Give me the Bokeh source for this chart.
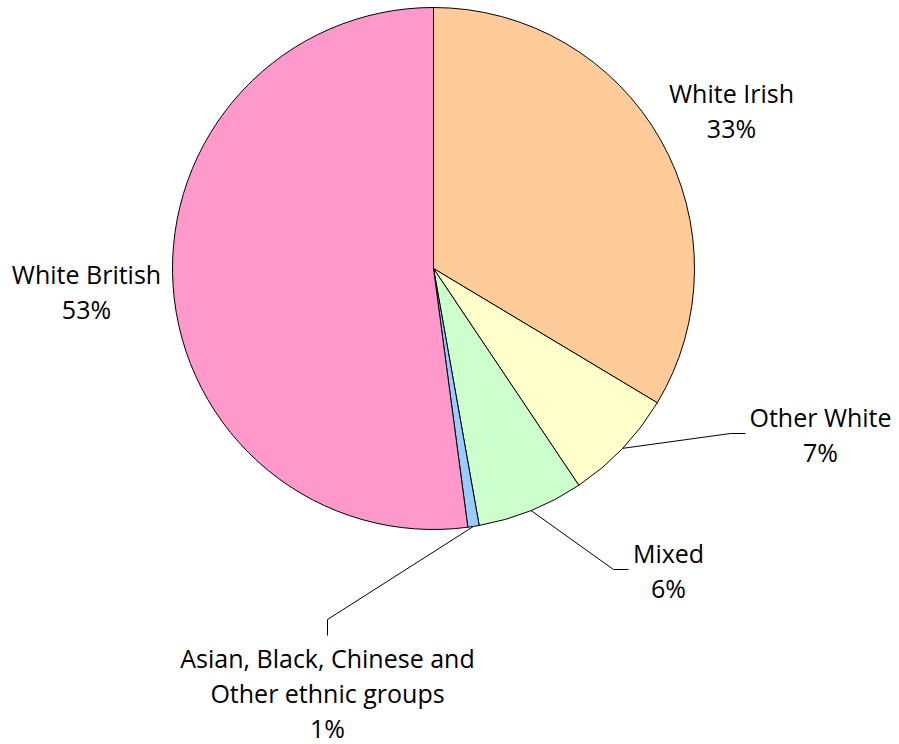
import math
from bokeh.plotting import figure
from bokeh.models import Range1d, ColumnDataSource
from bokeh.core.properties import value
from bokeh.embed import file_html
from bokeh.resources import INLINE

# ---- data ----
categories = ["White Irish", "Other White", "Mixed",
              "Asian, Black, Chinese and Other ethnic groups", "White British"]
shares = [33.6, 7.0, 6.6, 0.7, 52.1]
pct_labels = ["33%", "7%", "6%", "1%", "53%"]
colors = ["#FFCC99", "#FFFFCC", "#CCFFCC", "#99CCFF", "#FF99CC"]

# ---- layout (picture pixel coords; data y = 744 - picture y) ----
W, H = 899, 744
CX, CY, R = 433, 744 - 268, 261
FONT = "Open Sans"
FS = "25px"
TEXT_SHIFT = 10  # compensates the renderer's baseline offset

# label lines: (text lines, centre x, first baseline picture y)
label_layout = [
    (["White Irish"], 731, 102),
    (["Other White"], 820, 426),
    (["Mixed"], 668, 562),
    (["Asian, Black, Chinese and", "Other ethnic groups"], 327, 667),
    (["White British"], 86, 283),
]
LINE_STEP = 35
# leader line elbows (picture coords) for small slices
leaders = {
    1: [(730, 433), (745, 433)],
    2: [(613, 569), (628, 569)],
    3: [(327, 619), (327, 635)],
}

p = figure(width=W, height=H, output_backend="svg", toolbar_location=None,
           x_range=Range1d(0, W), y_range=Range1d(0, H),
           x_axis_location=None, y_axis_location=None, min_border=0,
           tools="")
p.grid.visible = False
p.outline_line_color = None
p.background_fill_color = "white"
p.border_fill_color = "white"

total = sum(shares)
starts, ends, mids = [], [], []
cum = 0.0
for s in shares:
    a0 = math.pi / 2 - 2 * math.pi * cum / total
    cum += s
    a1 = math.pi / 2 - 2 * math.pi * cum / total
    starts.append(a0)
    ends.append(a1)
    mids.append((a0 + a1) / 2)

src = ColumnDataSource(dict(start=starts, end=ends, color=colors,
                            cat=categories))
p.wedge(x=CX, y=CY, radius=R, start_angle="start", end_angle="end",
        direction="clock", fill_color="color", line_color="black",
        line_width=1, source=src)

# leader lines
for i, pts in leaders.items():
    sx = CX + R * math.cos(mids[i])
    sy = CY + R * math.sin(mids[i])
    xs = [sx] + [q[0] for q in pts]
    ys = [sy] + [744 - q[1] for q in pts]
    p.line(xs, ys, line_color="black", line_width=1)

# labels
tx, ty, tt = [], [], []
for i, (lines, lx, ly) in enumerate(label_layout):
    all_lines = lines + [pct_labels[i]]
    for k, t in enumerate(all_lines):
        tx.append(lx)
        ty.append(744 - (ly + k * LINE_STEP - TEXT_SHIFT))
        tt.append(t)
p.text(x=tx, y=ty, text=tt, text_font=value(FONT), text_font_size=FS,
       text_align="center", text_baseline="alphabetic", text_color="black")

open("out.html", "w").write(file_html(p, INLINE))
